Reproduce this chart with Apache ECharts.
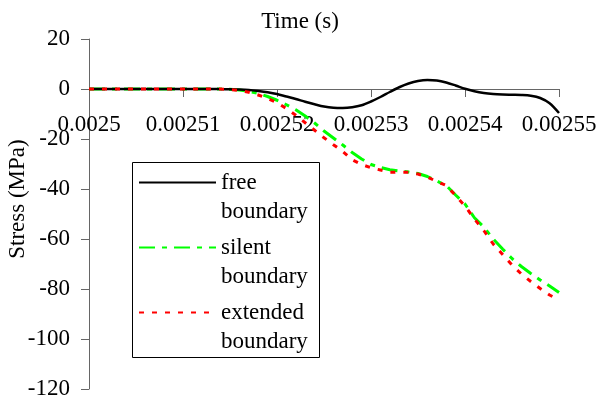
<!DOCTYPE html>
<html>
<head>
<meta charset="utf-8">
<script src="https://cdn.jsdelivr.net/npm/echarts@6/dist/echarts.min.js"></script>
<style>
  html, body { margin: 0; padding: 0; background: #fff; }
  #chart { width: 600px; height: 402px; }
</style>
</head>
<body>
<div id="chart"></div>
<script>
// time in microseconds (axis labels show seconds)
const timeUs = [
  2500, 2501, 2502, 2503, 2504, 2505, 2506, 2507, 2508, 2509,
  2510, 2511, 2512, 2513, 2514, 2515, 2516, 2517, 2518, 2519,
  2520, 2521, 2522, 2523, 2524, 2525, 2526, 2527, 2528, 2529,
  2530, 2531, 2532, 2533, 2534, 2535, 2536, 2537, 2538, 2539,
  2540, 2541, 2542, 2543, 2544, 2545, 2546, 2547, 2548, 2549,
  2550
]

// stress (MPa)
const freeBoundary = [
  0, 0, 0, 0, 0, 0, 0, 0, 0, 0,
  0, 0, 0, 0, -0.05, -0.1, -0.2, -0.4, -0.8, -1.3,
  -2.0, -3.0, -4.0, -5.1, -6.1, -7.0, -7.5, -7.6, -7.3, -6.5,
  -5.0, -3.2, -1.2, 0.7, 2.2, 3.2, 3.6, 3.4, 2.6, 1.4,
  0.1, -0.9, -1.6, -2.0, -2.2, -2.3, -2.4, -2.7, -3.6, -5.7,
  -9.6
]
const silentBoundary = [
  0, 0, 0, 0, 0, 0, 0, 0, 0, 0,
  0, 0, 0, 0, 0, -0.1, -0.4, -0.9, -1.8, -3.0,
  -4.5, -6.3, -8.3, -10.8, -13.6, -16.8, -19.6, -22.4, -25.4, -28.0,
  -30.2, -31.4, -32.3, -32.8, -33.2, -33.8, -35.0, -36.8, -38.6, -42.4,
  -46.0, -51.5, -55.2, -60.0, -64.0, -67.8, -71.0, -73.8, -76.4, -78.8,
  -81.4
]
const extendedBoundary = [
  0, 0, 0, 0, 0, 0, 0, 0, 0, 0,
  0, 0, 0, 0, 0, -0.2, -0.6, -1.3, -2.4, -3.8,
  -5.5, -7.8, -10.5, -13.5, -16.5, -19.5, -22.3, -25.0, -28.3, -30.2,
  -31.5, -32.4, -33.3, -33.3, -33.3, -34.0, -35.2, -37.0, -38.6, -42.6,
  -46.8, -52.0, -56.6, -62.0, -66.2, -70.4, -74.0, -77.0, -79.8, -82.4,
  -84.4
]

const seriesNames = ['free boundary', 'silent boundary', 'extended boundary']
// blank first line keeps the legend line level with the first text line
const legendLabels = [' \nfree\nboundary', ' \nsilent\nboundary', ' \nextended\nboundary']

const font = '"Liberation Serif", "Times New Roman", serif'

const chart = echarts.init(document.getElementById('chart'))

function pairs(values) {
  return timeUs.map((t, i) => [t, values[i]])
}

chart.setOption({
  backgroundColor: '#fff',
  animation: false,
  textStyle: { fontFamily: font },
  title: {
    text: 'Time (s)',
    left: 'center',
    top: 5,
    textStyle: { fontFamily: font, fontSize: 23, fontWeight: 'normal', color: '#000' }
  },
  grid: { left: 89, right: 41, top: 39, bottom: 13, containLabel: false, outerBoundsMode: 'none' },
  xAxis: {
    type: 'value',
    min: 2500,
    max: 2550,
    interval: 10,
    // axis drawn at stress = 0, i.e. 300px above the bottom of the grid
    position: 'bottom',
    offset: -300,
    axisLine: { onZero: false, lineStyle: { color: '#666', width: 1 } },
    axisTick: { show: true, inside: false, length: 8, lineStyle: { color: '#666' } },
    axisLabel: {
      margin: 24,
      hideOverlap: false,
      fontFamily: font,
      fontSize: 23,
      color: '#000',
      formatter: v => String(v / 1e6)
    },
    splitLine: { show: false }
  },
  yAxis: {
    type: 'value',
    min: -120,
    max: 20,
    interval: 20,
    axisLine: { show: true, lineStyle: { color: '#666', width: 1 } },
    axisTick: { show: true, inside: false, length: 8, lineStyle: { color: '#666' } },
    axisLabel: { margin: 19, fontFamily: font, fontSize: 23, color: '#000' },
    splitLine: { show: false }
  },
  legend: {
    orient: 'vertical',
    left: 138,
    top: 139,
    padding: 0,
    itemGap: -22,
    itemWidth: 77,
    itemHeight: 14,
    itemStyle: { opacity: 0 },
    data: seriesNames,
    formatter: name => legendLabels[seriesNames.indexOf(name)],
    textStyle: {
      fontFamily: font,
      fontSize: 23,
      lineHeight: 29,
      color: '#000'
    }
  },
  graphic: [
    {
      type: 'rect',
      shape: { x: 132.5, y: 162.5, width: 187, height: 195 },
      style: { fill: 'none', stroke: '#000', lineWidth: 1 },
      silent: true
    },
    {
      // y-axis title
      type: 'text',
      x: 18,
      y: 199,
      rotation: Math.PI / 2,
      style: {
        text: 'Stress (MPa)',
        font: '23px ' + font,
        fill: '#000',
        align: 'center',
        verticalAlign: 'middle'
      },
      silent: true
    }
  ],
  series: [
    {
      name: seriesNames[0],
      type: 'line',
      data: pairs(freeBoundary),
      symbol: 'none',
      smooth: 0.3,
      lineStyle: { color: '#000', width: 2.5, type: 'solid' },
      itemStyle: { color: '#000' },
      z: 3
    },
    {
      name: seriesNames[1],
      type: 'line',
      data: pairs(silentBoundary),
      symbol: 'none',
      lineStyle: { color: '#00ff00', width: 3, type: [16, 7, 5, 7] },
      itemStyle: { color: '#00ff00' },
      z: 2
    },
    {
      name: seriesNames[2],
      type: 'line',
      data: pairs(extendedBoundary),
      symbol: 'none',
      lineStyle: { color: '#ff0000', width: 3, type: [5, 8] },
      itemStyle: { color: '#ff0000' },
      z: 4
    }
  ]
})
</script>
</body>
</html>
